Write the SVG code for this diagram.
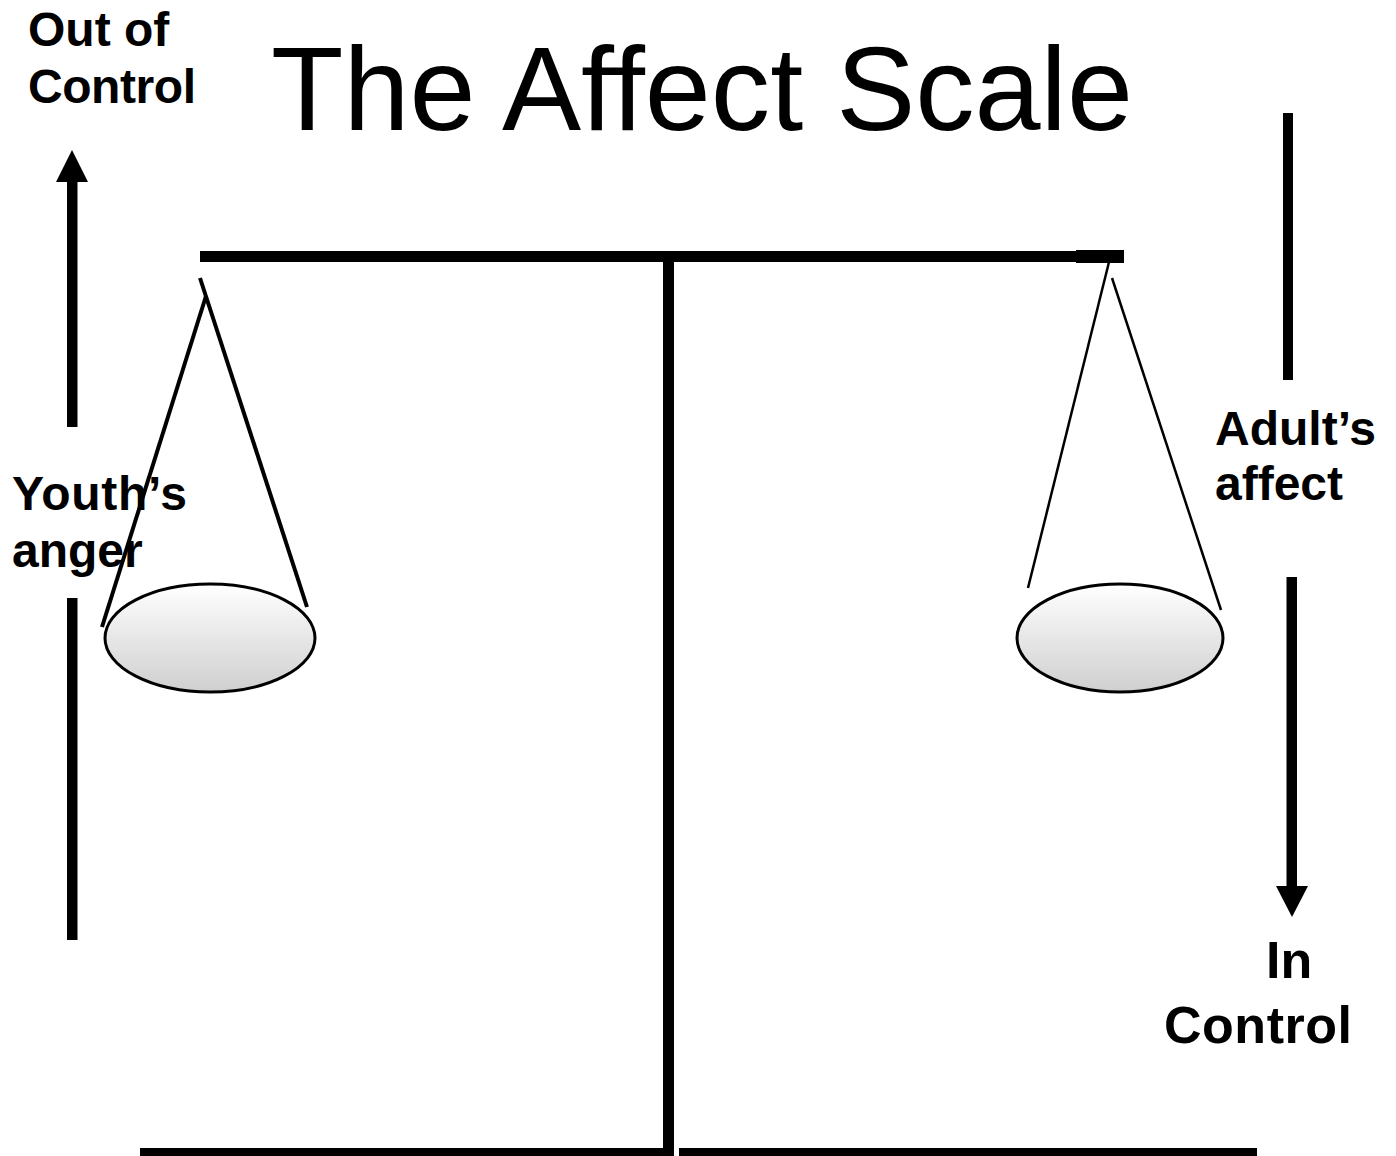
<svg xmlns="http://www.w3.org/2000/svg" width="1396" height="1156" viewBox="0 0 1396 1156">
  <style>
    .lbl { font-family: "Liberation Sans", Arial, sans-serif; font-weight: bold; fill: #000; }
    .title { font-family: "Liberation Sans", Arial, sans-serif; font-size: 119px; fill: #000; }
    .pan { fill: url(#panFill); stroke: #000; stroke-width: 3; }
    .bar { fill: #000; }
  </style>
  <defs>
    <linearGradient id="panFill" x1="0" y1="0" x2="0" y2="1">
      <stop offset="0" stop-color="#ffffff"/>
      <stop offset="1" stop-color="#cfcfcf"/>
    </linearGradient>
  </defs>
  <rect width="1396" height="1156" fill="#fff"/>

  <!-- title -->
  <text class="title" x="271" y="130" textLength="862" lengthAdjust="spacingAndGlyphs">The Affect Scale</text>

  <!-- scale frame -->
  <g id="beam">
    <rect class="bar" x="200" y="251" width="880" height="11"/>
    <rect class="bar" x="1076" y="250" width="48" height="13"/>
  </g>
  <g id="post">
    <rect class="bar" x="663" y="258" width="11" height="898"/>
  </g>
  <g id="base">
    <rect class="bar" x="140" y="1148" width="534" height="8"/>
    <rect class="bar" x="679" y="1148" width="578" height="8"/>
  </g>

  <!-- left pan -->
  <g id="left-pan">
    <line x1="200" y1="278" x2="307" y2="607" stroke="#000" stroke-width="4"/>
    <line x1="206" y1="296" x2="102" y2="627" stroke="#000" stroke-width="4"/>
    <ellipse class="pan" cx="210" cy="638" rx="105" ry="54"/>
  </g>

  <!-- right pan -->
  <g id="right-pan">
    <line x1="1109" y1="262" x2="1028" y2="588" stroke="#000" stroke-width="2.5"/>
    <line x1="1112" y1="278" x2="1221" y2="610" stroke="#000" stroke-width="2.5"/>
    <ellipse class="pan" cx="1120" cy="638" rx="103" ry="54"/>
  </g>

  <!-- direction indicators -->
  <g id="connectors">
    <rect class="bar" x="67" y="180" width="10.5" height="247"/>
    <polygon class="bar" points="72,150 88,182 56,182"/>
    <rect class="bar" x="67" y="598" width="10.5" height="342"/>
    <rect class="bar" x="1283" y="113" width="10" height="267"/>
    <rect class="bar" x="1286.5" y="577" width="10.5" height="311"/>
    <polygon class="bar" points="1276,886 1308,886 1292,917"/>
  </g>

  <!-- labels -->
  <g id="label-out-of-control">
    <text class="lbl" x="28" y="46" font-size="48">Out of</text>
    <text class="lbl" x="28" y="103" font-size="48" textLength="168">Control</text>
  </g>
  <g id="label-youth">
    <text class="lbl" x="12" y="510" font-size="48" textLength="175">Youth’s</text>
    <text class="lbl" x="12" y="567" font-size="48">anger</text>
  </g>
  <g id="label-adult">
    <text class="lbl" x="1215" y="445" font-size="48" textLength="161">Adult’s</text>
    <text class="lbl" x="1215" y="500" font-size="48">affect</text>
  </g>
  <g id="label-in-control">
    <text class="lbl" x="1266" y="978" font-size="52">In</text>
    <text class="lbl" x="1164" y="1043" font-size="52" textLength="188">Control</text>
  </g>
</svg>
